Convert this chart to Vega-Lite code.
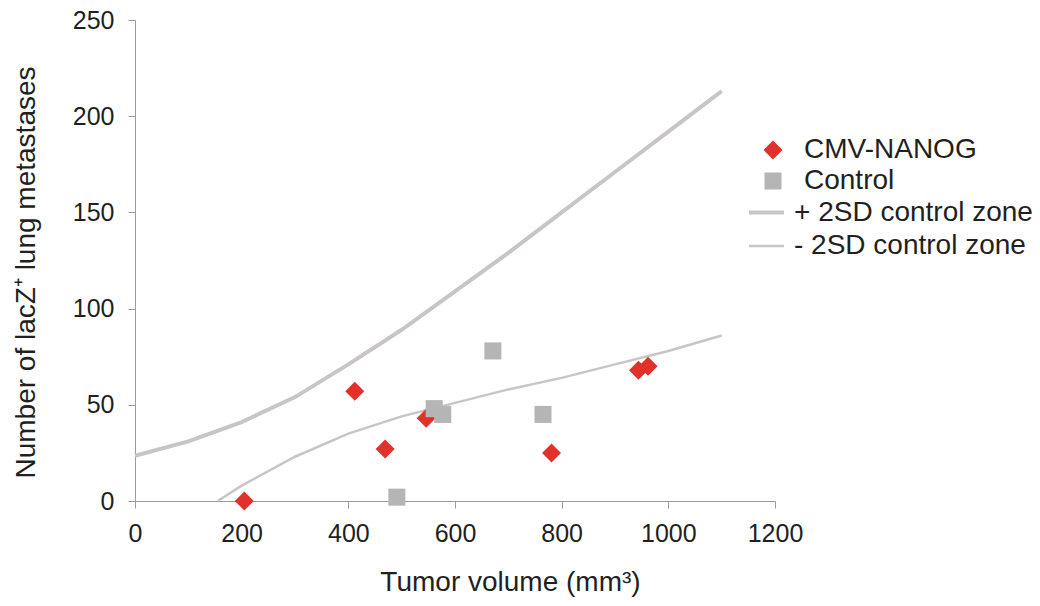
{
  "$schema": "https://vega.github.io/schema/vega-lite/v6.json",
  "width": 640,
  "height": 481,
  "autosize": {"type": "none"},
  "padding": {"left": 135, "top": 20, "right": 265, "bottom": 105},
  "background": "white",
  "config": {
    "font": "Liberation Sans",
    "view": {"stroke": null},
    "axis": {
      "grid": false,
      "domainColor": "#9a9a9a",
      "tickColor": "#9a9a9a",
      "tickSize": 7,
      "labelColor": "#231f20",
      "titleColor": "#231f20",
      "labelFontSize": 25,
      "titleFontSize": 28,
      "titleFontWeight": "normal",
      "labelFont": "Liberation Sans",
      "titleFont": "Liberation Sans",
      "format": "d"
    },
    "legend": {
      "labelFontSize": 28,
      "labelFont": "Liberation Sans",
      "labelColor": "#231f20",
      "labelLimit": 400,
      "title": null,
      "padding": 0,
      "rowPadding": 3
    }
  },
  "datasets": {
    "pts": [
      {"volume": 205, "count": 0, "group": "CMV-NANOG"},
      {"volume": 412, "count": 57, "group": "CMV-NANOG"},
      {"volume": 469, "count": 27, "group": "CMV-NANOG"},
      {"volume": 546, "count": 43, "group": "CMV-NANOG"},
      {"volume": 781, "count": 25, "group": "CMV-NANOG"},
      {"volume": 944, "count": 68, "group": "CMV-NANOG"},
      {"volume": 962, "count": 70, "group": "CMV-NANOG"},
      {"volume": 491, "count": 2, "group": "Control"},
      {"volume": 561, "count": 48, "group": "Control"},
      {"volume": 577, "count": 45, "group": "Control"},
      {"volume": 671, "count": 78, "group": "Control"},
      {"volume": 765, "count": 45, "group": "Control"}
    ],
    "lines": [
      {"volume": 0, "count": 23.5, "zone": "+ 2SD control zone"},
      {"volume": 100, "count": 31, "zone": "+ 2SD control zone"},
      {"volume": 200, "count": 41, "zone": "+ 2SD control zone"},
      {"volume": 300, "count": 54, "zone": "+ 2SD control zone"},
      {"volume": 400, "count": 71, "zone": "+ 2SD control zone"},
      {"volume": 500, "count": 89, "zone": "+ 2SD control zone"},
      {"volume": 600, "count": 109, "zone": "+ 2SD control zone"},
      {"volume": 700, "count": 129, "zone": "+ 2SD control zone"},
      {"volume": 800, "count": 150, "zone": "+ 2SD control zone"},
      {"volume": 900, "count": 171, "zone": "+ 2SD control zone"},
      {"volume": 1000, "count": 192, "zone": "+ 2SD control zone"},
      {"volume": 1100, "count": 213, "zone": "+ 2SD control zone"},
      {"volume": 155, "count": 0, "zone": "\u00a0- 2SD control zone"},
      {"volume": 200, "count": 8, "zone": "\u00a0- 2SD control zone"},
      {"volume": 300, "count": 23, "zone": "\u00a0- 2SD control zone"},
      {"volume": 400, "count": 35, "zone": "\u00a0- 2SD control zone"},
      {"volume": 500, "count": 44, "zone": "\u00a0- 2SD control zone"},
      {"volume": 600, "count": 51, "zone": "\u00a0- 2SD control zone"},
      {"volume": 700, "count": 58, "zone": "\u00a0- 2SD control zone"},
      {"volume": 800, "count": 64, "zone": "\u00a0- 2SD control zone"},
      {"volume": 900, "count": 71, "zone": "\u00a0- 2SD control zone"},
      {"volume": 1000, "count": 78, "zone": "\u00a0- 2SD control zone"},
      {"volume": 1100, "count": 86, "zone": "\u00a0- 2SD control zone"}
    ]
  },
  "encoding": {
    "x": {
      "field": "volume",
      "type": "quantitative",
      "scale": {"domain": [0, 1200], "nice": false, "zero": true},
      "axis": {"values": [0, 200, 400, 600, 800, 1000, 1200], "title": "Tumor volume (mm\u00b3)", "labelPadding": 13, "titlePadding": 22, "titleX": 375, "labelFlush": false}
    },
    "y": {
      "field": "count",
      "type": "quantitative",
      "scale": {"domain": [0, 250], "nice": false},
      "axis": {"values": [0, 50, 100, 150, 200, 250], "title": "Number of lacZ\u207a lung metastases", "labelPadding": 14, "titlePadding": 32, "titleY": 252, "labelFlush": false}
    }
  },
  "layer": [
    {
      "data": {"name": "lines"},
      "mark": {"type": "line", "color": "#c9c5c5", "clip": false},
      "encoding": {
        "detail": {"field": "zone", "type": "nominal"},
        "order": {"field": "volume", "type": "quantitative"},
        "strokeWidth": {
          "field": "zone",
          "type": "ordinal",
          "scale": {"domain": ["+ 2SD control zone", "\u00a0- 2SD control zone"], "range": [4, 2.5]},
          "legend": {"orient": "none", "legendX": 612, "legendY": 173, "rowPadding": -4, "symbolType": "stroke", "symbolSize": 1225, "symbolStrokeColor": "#c9c5c5", "labelOffset": 8}
        }
      }
    },
    {
      "data": {"name": "pts"},
      "mark": {"type": "point", "filled": true, "opacity": 1},
      "encoding": {
        "color": {
          "field": "group",
          "type": "nominal",
          "scale": {"domain": ["CMV-NANOG", "Control"], "range": ["#e2302a", "#b5b5b5"]},
          "legend": {"orient": "none", "legendX": 624, "legendY": 116, "symbolSize": 170, "labelOffset": 17}
        },
        "shape": {
          "field": "group",
          "type": "nominal",
          "scale": {"domain": ["CMV-NANOG", "Control"], "range": ["diamond", "square"]}
        },
        "size": {
          "field": "group",
          "type": "nominal",
          "scale": {"domain": ["CMV-NANOG", "Control"], "range": [360, 290]},
          "legend": null
        }
      }
    }
  ]
}
